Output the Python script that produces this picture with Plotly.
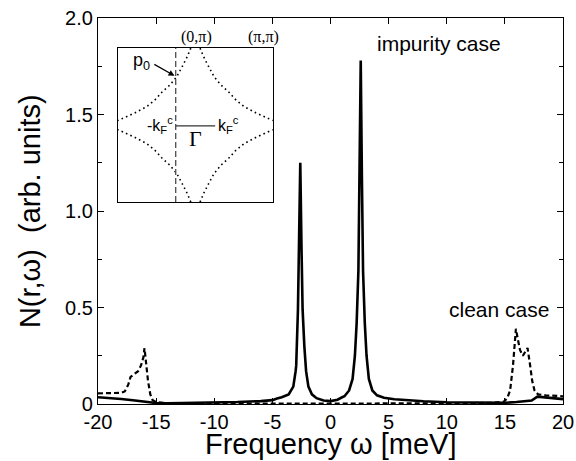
import plotly.graph_objects as go

# ---- main data: impurity case (solid) ----
imp_w = [-20, -19, -18, -17, -16, -15, -14, -12, -10, -8, -6, -5, -4.6, -4.2, -3.6, -3.2, -3.0, -2.95,
         -2.8, -2.7, -2.6, -2.5, -2.4, -2.25, -2.1, -1.9, -1.6, -1.2, -0.6, 0, 0.6, 1.0, 1.2, 1.6, 1.9,
         2.1, 2.25, 2.4, 2.5, 2.6, 2.7, 2.8, 2.95, 3.1, 3.3, 3.6, 4.0, 4.6, 5.5, 6.5, 8, 10, 12, 14,
         15, 16, 16.8, 17.3, 17.8, 18.5, 19.5, 20]
imp_n = [0.035, 0.031, 0.026, 0.019, 0.011, 0.005, 0.004, 0.005, 0.007, 0.010, 0.015, 0.020, 0.028,
         0.035, 0.05, 0.09, 0.17, 0.20, 0.49, 0.83, 1.25, 0.83, 0.49, 0.30, 0.17, 0.09, 0.05, 0.03,
         0.018, 0.015, 0.022, 0.035, 0.04, 0.07, 0.13, 0.25, 0.42, 0.69, 1.18, 1.78, 1.18, 0.69, 0.42,
         0.25, 0.13, 0.07, 0.045, 0.032, 0.025, 0.02, 0.014, 0.009, 0.007, 0.005, 0.006, 0.010, 0.015,
         0.018, 0.038, 0.033, 0.027, 0.025]

# ---- main data: clean case (dashed) ----
cln_w = [-20, -19, -18, -17.7, -17.4, -17.2, -16.9, -16.55, -16.3, -16.1, -16.0, -15.85, -15.7, -15.5,
         -15.3, -15, -14, -10, 0, 10, 14, 14.9, 15.2, 15.45, 15.7, 15.95, 16.1, 16.3, 16.55, 16.8, 16.95,
         17.15, 17.35, 17.55, 17.85, 18.5, 19.5, 20]
cln_n = [0.055, 0.055, 0.058, 0.065, 0.10, 0.14, 0.155, 0.17, 0.20, 0.24, 0.29, 0.20, 0.12, 0.05, 0.02,
         0.01, 0.004, 0.002, 0.002, 0.003, 0.006, 0.012, 0.03, 0.07, 0.20, 0.39, 0.34, 0.28, 0.25, 0.28,
         0.29, 0.21, 0.12, 0.07, 0.05, 0.045, 0.04, 0.04]

x_ticks = [-20, -15, -10, -5, 0, 5, 10, 15, 20]
x_ticklabels = ["-20", "-15", "-10", "-5", "0", "5", "10", "15", "20"]
y_ticks = [0, 0.5, 1.0, 1.5, 2.0]
y_ticklabels = ["0", "0.5", "1.0", "1.5", "2.0"]

# ---- inset: Fermi-surface octant points (units of pi), upper-left pocket ----
fs_kx = [-0.06, -0.10, -0.16, -0.24, -0.33, -0.43]
fs_ky = [1.00, 0.90, 0.78, 0.63, 0.52, 0.43]
p0_kx = -0.255  # dashed cut
kf_c = 0.255

FONT = "Liberation Sans, Arial, Helvetica, sans-serif"
SERIF = "Liberation Serif, Times New Roman, serif"

fig = go.Figure()
fig.add_trace(go.Scatter(x=cln_w, y=cln_n, mode="lines",
                         line=dict(color="black", width=2.2, dash="5px,3px"), showlegend=False))
fig.add_trace(go.Scatter(x=imp_w, y=imp_n, mode="lines",
                         line=dict(color="black", width=2.6), showlegend=False))

# build full Fermi-surface curve for the inset from the octant (mirror symmetries)
oct_x = fs_kx + [-v for v in reversed(fs_ky[:-1])]
oct_y = fs_ky + [-v for v in reversed(fs_kx[:-1])]
for sx in (1, -1):
    for sy in (1, -1):
        fig.add_trace(go.Scatter(x=[sx * v for v in oct_x], y=[sy * v for v in oct_y],
                                 xaxis="x2", yaxis="y2", mode="lines",
                                 line=dict(color="black", width=1.6, dash="1.6px,3.2px"),
                                 showlegend=False))
# dashed vertical cut
fig.add_trace(go.Scatter(x=[p0_kx, p0_kx], y=[-1, 1], xaxis="x2", yaxis="y2", mode="lines",
                         line=dict(color="#555555", width=1.4, dash="6px,3px"), showlegend=False))
# kF line
fig.add_trace(go.Scatter(x=[-kf_c, kf_c], y=[-0.01, -0.01], xaxis="x2", yaxis="y2", mode="lines",
                         line=dict(color="#333333", width=1.2), showlegend=False))

ann = [
    dict(x=-0.146, y=0.5, xref="paper", yref="paper", text="N(r,ω)  (arb. units)", showarrow=False,
         textangle=-90, xanchor="center", yanchor="middle",
         font=dict(size=29, family=FONT, color="black")),
    dict(x=0.5, y=-0.104, xref="paper", yref="paper", text="Frequency ω [meV]", showarrow=False,
         xanchor="center", yanchor="middle", font=dict(size=29, family=FONT, color="black")),
    dict(x=3.8, y=1.87, xref="x", yref="y", text="impurity case", showarrow=False,
         xanchor="left", yanchor="middle", font=dict(size=21, family=FONT, color="black")),
    dict(x=10.0, y=0.49, xref="x", yref="y", text="clean case", showarrow=False,
         xanchor="left", yanchor="middle", font=dict(size=21, family=FONT, color="black")),
    dict(x=0.02, y=1.0, xref="x2", yref="y2", text="(0,π)", showarrow=False,
         xanchor="center", yanchor="bottom", yshift=0, font=dict(size=16, family=SERIF, color="black")),
    dict(x=0.88, y=1.0, xref="x2", yref="y2", text="(π,π)", showarrow=False,
         xanchor="center", yanchor="bottom", yshift=0, font=dict(size=16, family=SERIF, color="black")),
    dict(x=-0.69, y=0.83, xref="x2", yref="y2", text="p<sub>0</sub>", showarrow=False,
         xanchor="center", yanchor="middle", font=dict(size=18, family=FONT, color="black")),
    dict(x=-0.27, y=0.64, xref="x2", yref="y2", ax=-0.55, ay=0.80, axref="x2", ayref="y2",
         text="", showarrow=True, arrowhead=2, arrowsize=1, arrowwidth=1.2, arrowcolor="black"),
    dict(x=-0.27, y=0.0, xref="x2", yref="y2", text="-k<sub>F</sub><sup>c</sup>", showarrow=False,
         xanchor="right", yanchor="middle", font=dict(size=16, family=FONT, color="black")),
    dict(x=0.27, y=0.0, xref="x2", yref="y2", text="k<sub>F</sub><sup>c</sup>", showarrow=False,
         xanchor="left", yanchor="middle", font=dict(size=16, family=FONT, color="black")),
    dict(x=0.0, y=-0.17, xref="x2", yref="y2", text="Γ", showarrow=False,
         xanchor="center", yanchor="middle", font=dict(size=22, family=SERIF, color="black")),
]

fig.update_layout(
    width=576, height=461,
    margin=dict(l=98, r=13, t=18, b=57),
    paper_bgcolor="white", plot_bgcolor="white",
    font=dict(family=FONT, color="black"),
    annotations=ann,
    xaxis=dict(range=[-20, 20], tickvals=x_ticks, ticktext=x_ticklabels, ticks="inside",
               ticklen=6, tickwidth=1, tickcolor="black", showline=True, linecolor="black",
               linewidth=1.2, mirror="ticks", showgrid=False, zeroline=False, automargin=False,
               tickfont=dict(size=20, family=FONT)),
    yaxis=dict(range=[0, 2], tickvals=y_ticks, ticktext=y_ticklabels, ticks="inside",
               ticklen=6, tickwidth=1, tickcolor="black", showline=True, linecolor="black",
               linewidth=1.2, mirror="ticks", showgrid=False, zeroline=False, automargin=False,
               minor=dict(dtick=0.25, ticks="inside", ticklen=4, tickcolor="black", showgrid=False),
               tickfont=dict(size=20, family=FONT)),
    xaxis2=dict(domain=[0.043, 0.376], anchor="y2", range=[-1, 1], showline=True, mirror=True,
                linecolor="black", linewidth=1, showticklabels=False, ticks="", showgrid=False,
                zeroline=False),
    yaxis2=dict(domain=[0.523, 0.922], anchor="x2", range=[-1, 1], showline=True, mirror=True,
                linecolor="black", linewidth=1, showticklabels=False, ticks="", showgrid=False,
                zeroline=False),
)

fig.write_html("out.html", config={"displayModeBar": False},
               post_script="document.body.style.margin='0';document.body.style.padding='0';")
